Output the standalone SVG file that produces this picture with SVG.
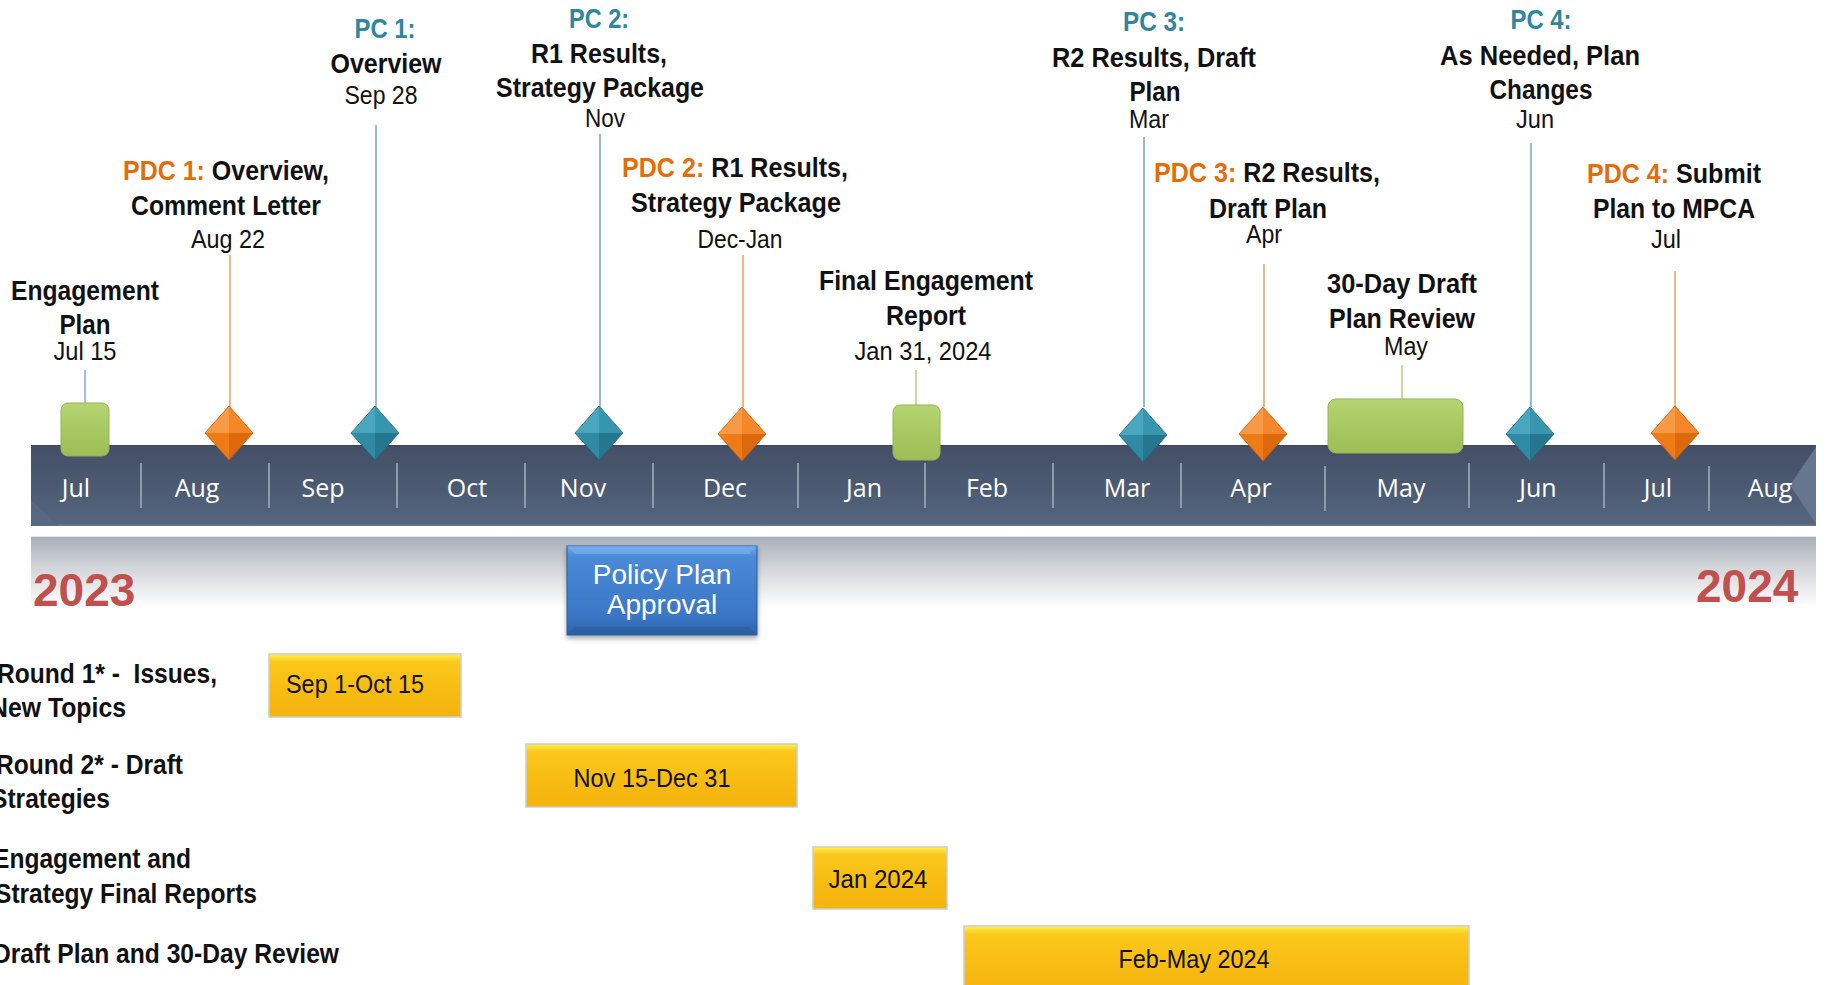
<svg xmlns="http://www.w3.org/2000/svg" xmlns:xlink="http://www.w3.org/1999/xlink" width="1826" height="985" viewBox="0 0 1826 985">
<style>
.lb{font-family:"Liberation Sans Narrow","Liberation Sans",Arial,sans-serif;font-weight:bold;font-size:28px;fill:#111;text-anchor:middle}
.dt{font-family:"Liberation Sans Narrow","Liberation Sans",Arial,sans-serif;font-size:25px;fill:#111;text-anchor:middle}
.pc{fill:#31859c}
.pdc{fill:#e46c0a}
.mo{font-family:"Open Sans","Noto Sans",sans-serif;font-size:25px;fill:#ffffff;text-anchor:middle}
.yr{font-family:"Liberation Sans",Arial,sans-serif;font-weight:bold;font-size:46px;fill:#c0504d}
.bx{font-family:"Liberation Sans Narrow","Liberation Sans",Arial,sans-serif;font-size:25px;fill:#111;text-anchor:middle}
.side{font-family:"Liberation Sans Narrow","Liberation Sans",Arial,sans-serif;font-weight:bold;font-size:28px;fill:#111;text-anchor:end;white-space:pre}
.sep{stroke:#8d99ad;stroke-width:2}
.lt{stroke:#93bfd0;stroke-width:2}
.lo{stroke:#f5b486;stroke-width:2}
.lg{stroke:#c3dc9b;stroke-width:2}
.green{fill:url(#gG);stroke:#93b550;stroke-width:1}
.ybox{fill:url(#gY);stroke:#cdcdcd;stroke-width:1.5}
</style>
<defs>
<linearGradient id="gBar" x1="0" y1="0" x2="0" y2="1">
<stop offset="0" stop-color="#434f66"/>
<stop offset="0.5" stop-color="#4b5a72"/>
<stop offset="1" stop-color="#566680"/>
</linearGradient>
<linearGradient id="gBand" x1="0" y1="0" x2="0" y2="1">
<stop offset="0" stop-color="#a8aeb7"/>
<stop offset="0.45" stop-color="#d3d6da"/>
<stop offset="1" stop-color="#ffffff"/>
</linearGradient>
<linearGradient id="gG" x1="0" y1="0" x2="0" y2="1">
<stop offset="0" stop-color="#b5d473"/>
<stop offset="0.5" stop-color="#a8c962"/>
<stop offset="1" stop-color="#9dbe56"/>
</linearGradient>
<linearGradient id="gY" x1="0" y1="0" x2="0" y2="1">
<stop offset="0" stop-color="#fff04a"/>
<stop offset="0.12" stop-color="#fcc81c"/>
<stop offset="0.6" stop-color="#f7bb12"/>
<stop offset="1" stop-color="#f3b30e"/>
</linearGradient>
<linearGradient id="gB" x1="0" y1="0" x2="0" y2="1">
<stop offset="0" stop-color="#6ea6ec"/>
<stop offset="0.12" stop-color="#4a8ad8"/>
<stop offset="0.8" stop-color="#3a76c4"/>
<stop offset="1" stop-color="#2d63ab"/>
</linearGradient>
<filter id="sh" x="-10%" y="-10%" width="120%" height="130%">
<feDropShadow dx="0" dy="3" stdDeviation="2.5" flood-color="#000" flood-opacity="0.35"/>
</filter>
<g id="dOr">
<polygon points="-24,0 0,-27 0,0" fill="#f79a45"/>
<polygon points="0,-27 24,0 0,0" fill="#f5862a"/>
<polygon points="-24,0 0,27 0,0" fill="#ee7b16"/>
<polygon points="0,0 24,0 0,27" fill="#dc6a0c"/>
<polygon points="-24,0 0,-27 24,0 0,27" fill="none" stroke="#c85e0a" stroke-width="0.8"/>
</g>
<g id="dTe">
<polygon points="-24,0 0,-27 0,0" fill="#4aa6bf"/>
<polygon points="0,-27 24,0 0,0" fill="#3895ae"/>
<polygon points="-24,0 0,27 0,0" fill="#2f8aa4"/>
<polygon points="0,0 24,0 0,27" fill="#25778f"/>
<polygon points="-24,0 0,-27 24,0 0,27" fill="none" stroke="#1f6a80" stroke-width="0.8"/>
</g>
</defs>
<rect width="1826" height="985" fill="#ffffff"/>

<g id="timeline-bar">
<rect x="31" y="536" width="1785" height="72" fill="url(#gBand)"/>
<line x1="31" y1="536.5" x2="1816" y2="536.5" stroke="#e4e6e9" stroke-width="1"/>
<rect x="31" y="445" width="1785" height="81" fill="url(#gBar)"/>
<line x1="31" y1="445.5" x2="1816" y2="445.5" stroke="#3a465b" stroke-width="1"/>
<line x1="31" y1="525" x2="1816" y2="525" stroke="#63728a" stroke-width="2"/>
<polygon points="31,500 59,526 31,526" fill="#5a6983" opacity="0.8"/>
<polygon points="1816,447 1790,485 1816,524" fill="#66768f"/>
<line class="sep" x1="141" y1="463" x2="141" y2="508"/>
<line class="sep" x1="269" y1="463" x2="269" y2="508"/>
<line class="sep" x1="397" y1="463" x2="397" y2="508"/>
<line class="sep" x1="525" y1="463" x2="525" y2="508"/>
<line class="sep" x1="653" y1="463" x2="653" y2="508"/>
<line class="sep" x1="798" y1="463" x2="798" y2="508"/>
<line class="sep" x1="925" y1="463" x2="925" y2="508"/>
<line class="sep" x1="1053" y1="463" x2="1053" y2="508"/>
<line class="sep" x1="1181" y1="463" x2="1181" y2="508"/>
<line class="sep" x1="1325" y1="466" x2="1325" y2="511"/>
<line class="sep" x1="1469" y1="463" x2="1469" y2="508"/>
<line class="sep" x1="1604" y1="463" x2="1604" y2="508"/>
<line class="sep" x1="1709" y1="466" x2="1709" y2="511"/>
<text class="mo" x="76" y="497">Jul</text>
<text class="mo" x="197" y="497">Aug</text>
<text class="mo" x="323" y="497">Sep</text>
<text class="mo" x="467" y="497">Oct</text>
<text class="mo" x="583" y="497">Nov</text>
<text class="mo" x="725" y="497">Dec</text>
<text class="mo" x="864" y="497">Jan</text>
<text class="mo" x="987" y="497">Feb</text>
<text class="mo" x="1127" y="497">Mar</text>
<text class="mo" x="1251" y="497">Apr</text>
<text class="mo" x="1401" y="497">May</text>
<text class="mo" x="1538" y="497">Jun</text>
<text class="mo" x="1658" y="497">Jul</text>
<text class="mo" x="1770" y="497">Aug</text>
<text class="yr" x="33" y="606">2023</text>
<text class="yr" x="1696" y="602">2024</text>
</g>

<g id="connectors">
<line x1="85" y1="370" x2="85" y2="403" stroke="#a6bde0" stroke-width="2"/>
<line class="lo" x1="230" y1="255" x2="230" y2="407"/>
<line class="lt" x1="376" y1="125" x2="376" y2="407"/>
<line class="lt" x1="600" y1="134" x2="600" y2="407"/>
<line class="lo" x1="743" y1="255" x2="743" y2="407"/>
<line class="lg" x1="916" y1="370" x2="916" y2="405"/>
<line class="lt" x1="1144" y1="137" x2="1144" y2="407"/>
<line class="lo" x1="1264" y1="264" x2="1264" y2="407"/>
<line class="lg" x1="1402" y1="365" x2="1402" y2="399"/>
<line class="lt" x1="1531" y1="143" x2="1531" y2="407"/>
<line class="lo" x1="1675" y1="271" x2="1675" y2="407"/>
</g>

<g id="engagement-plan">
<rect class="green" x="61" y="403" width="48" height="53" rx="7"/>
<text class="lb" x="85" y="300" textLength="148" lengthAdjust="spacingAndGlyphs">Engagement</text>
<text class="lb" x="85" y="334" textLength="51" lengthAdjust="spacingAndGlyphs">Plan</text>
<text class="dt" x="85" y="360" textLength="63" lengthAdjust="spacingAndGlyphs">Jul 15</text>
</g>

<g id="pdc1">
<use href="#dOr" x="229" y="433"/>
<text class="lb" x="226" y="180" textLength="206" lengthAdjust="spacingAndGlyphs"><tspan class="pdc">PDC 1:</tspan> Overview,</text>
<text class="lb" x="226" y="215" textLength="190" lengthAdjust="spacingAndGlyphs">Comment Letter</text>
<text class="dt" x="228" y="248" textLength="74" lengthAdjust="spacingAndGlyphs">Aug 22</text>
</g>

<g id="pc1">
<use href="#dTe" x="375" y="433"/>
<text class="lb pc" x="385" y="38" textLength="61" lengthAdjust="spacingAndGlyphs">PC 1:</text>
<text class="lb" x="386" y="73" textLength="111" lengthAdjust="spacingAndGlyphs">Overview</text>
<text class="dt" x="381" y="104" textLength="73" lengthAdjust="spacingAndGlyphs">Sep 28</text>
</g>

<g id="pc2">
<use href="#dTe" x="599" y="433"/>
<text class="lb pc" x="599" y="28" textLength="60" lengthAdjust="spacingAndGlyphs">PC 2:</text>
<text class="lb" x="599" y="63" textLength="136" lengthAdjust="spacingAndGlyphs">R1 Results,</text>
<text class="lb" x="600" y="97" textLength="208" lengthAdjust="spacingAndGlyphs">Strategy Package</text>
<text class="dt" x="605" y="127" textLength="40" lengthAdjust="spacingAndGlyphs">Nov</text>
</g>

<g id="pdc2">
<use href="#dOr" x="742" y="434"/>
<text class="lb" x="735" y="177" textLength="226" lengthAdjust="spacingAndGlyphs"><tspan class="pdc">PDC 2:</tspan> R1 Results,</text>
<text class="lb" x="736" y="212" textLength="210" lengthAdjust="spacingAndGlyphs">Strategy Package</text>
<text class="dt" x="740" y="248" textLength="85" lengthAdjust="spacingAndGlyphs">Dec-Jan</text>
</g>

<g id="final-report">
<rect class="green" x="893" y="405" width="47" height="55" rx="7"/>
<text class="lb" x="926" y="290" textLength="214" lengthAdjust="spacingAndGlyphs">Final Engagement</text>
<text class="lb" x="926" y="325" textLength="80" lengthAdjust="spacingAndGlyphs">Report</text>
<text class="dt" x="923" y="360" textLength="137" lengthAdjust="spacingAndGlyphs">Jan 31, 2024</text>
</g>

<g id="pc3">
<use href="#dTe" x="1143" y="435"/>
<text class="lb pc" x="1154" y="31" textLength="62" lengthAdjust="spacingAndGlyphs">PC 3:</text>
<text class="lb" x="1154" y="67" textLength="204" lengthAdjust="spacingAndGlyphs">R2 Results, Draft</text>
<text class="lb" x="1155" y="101" textLength="51" lengthAdjust="spacingAndGlyphs">Plan</text>
<text class="dt" x="1149" y="128" textLength="40" lengthAdjust="spacingAndGlyphs">Mar</text>
</g>

<g id="pdc3">
<use href="#dOr" x="1263" y="434"/>
<text class="lb" x="1267" y="182" textLength="226" lengthAdjust="spacingAndGlyphs"><tspan class="pdc">PDC 3:</tspan> R2 Results,</text>
<text class="lb" x="1268" y="218" textLength="118" lengthAdjust="spacingAndGlyphs">Draft Plan</text>
<text class="dt" x="1264" y="243" textLength="36" lengthAdjust="spacingAndGlyphs">Apr</text>
</g>

<g id="draft-review">
<rect class="green" x="1328" y="399" width="135" height="54" rx="8"/>
<text class="lb" x="1402" y="293" textLength="150" lengthAdjust="spacingAndGlyphs">30-Day Draft</text>
<text class="lb" x="1402" y="328" textLength="146" lengthAdjust="spacingAndGlyphs">Plan Review</text>
<text class="dt" x="1406" y="355" textLength="44" lengthAdjust="spacingAndGlyphs">May</text>
</g>

<g id="pc4">
<use href="#dTe" x="1530" y="434"/>
<text class="lb pc" x="1541" y="29" textLength="61" lengthAdjust="spacingAndGlyphs">PC 4:</text>
<text class="lb" x="1540" y="65" textLength="200" lengthAdjust="spacingAndGlyphs">As Needed, Plan</text>
<text class="lb" x="1541" y="99" textLength="103" lengthAdjust="spacingAndGlyphs">Changes</text>
<text class="dt" x="1535" y="128" textLength="38" lengthAdjust="spacingAndGlyphs">Jun</text>
</g>

<g id="pdc4">
<use href="#dOr" x="1675" y="433"/>
<text class="lb" x="1674" y="183" textLength="174" lengthAdjust="spacingAndGlyphs"><tspan class="pdc">PDC 4:</tspan> Submit</text>
<text class="lb" x="1674" y="218" textLength="162" lengthAdjust="spacingAndGlyphs">Plan to MPCA</text>
<text class="dt" x="1666" y="248" textLength="30" lengthAdjust="spacingAndGlyphs">Jul</text>
</g>

<g id="policy-approval">
<rect x="567" y="546" width="190" height="89" fill="url(#gB)" stroke="#2b5c9e" stroke-width="1" filter="url(#sh)"/>
<polygon points="567,546 757,546 749,554 575,554" fill="#7db2f0" opacity="0.6"/>
<polygon points="567,635 757,635 749,627 575,627" fill="#2a5898" opacity="0.5"/>
<text x="662" y="584" font-family="Liberation Sans, Arial, sans-serif" font-size="28" fill="#ffffff" text-anchor="middle">Policy Plan</text>
<text x="662" y="614" font-family="Liberation Sans, Arial, sans-serif" font-size="28" fill="#ffffff" text-anchor="middle">Approval</text>
</g>

<g id="round1">
<text class="side" x="217" y="683" textLength="220" lengthAdjust="spacingAndGlyphs">Round 1* -  Issues,</text>
<text class="side" x="126" y="717" textLength="136" lengthAdjust="spacingAndGlyphs">New Topics</text>
<rect class="ybox" x="269" y="654" width="192" height="63"/>
<text class="bx" x="355" y="693" textLength="138" lengthAdjust="spacingAndGlyphs">Sep 1-Oct 15</text>
</g>

<g id="round2">
<text class="side" x="183" y="774" textLength="187" lengthAdjust="spacingAndGlyphs">Round 2* - Draft</text>
<text class="side" x="110" y="808" textLength="119" lengthAdjust="spacingAndGlyphs">Strategies</text>
<rect class="ybox" x="526" y="744" width="271" height="63"/>
<text class="bx" x="652" y="787" textLength="157" lengthAdjust="spacingAndGlyphs">Nov 15-Dec 31</text>
</g>

<g id="final-reports">
<text class="side" x="191" y="868" textLength="198" lengthAdjust="spacingAndGlyphs">Engagement and</text>
<text class="side" x="257" y="903" textLength="262" lengthAdjust="spacingAndGlyphs">Strategy Final Reports</text>
<rect class="ybox" x="813" y="847" width="134" height="62"/>
<text class="bx" x="878" y="888" textLength="99" lengthAdjust="spacingAndGlyphs">Jan 2024</text>
</g>

<g id="draft-plan-review">
<text class="side" x="339" y="963" textLength="346" lengthAdjust="spacingAndGlyphs">Draft Plan and 30-Day Review</text>
<rect class="ybox" x="964" y="926" width="505" height="70"/>
<text class="bx" x="1194" y="968" textLength="151" lengthAdjust="spacingAndGlyphs">Feb-May 2024</text>
</g>
</svg>
